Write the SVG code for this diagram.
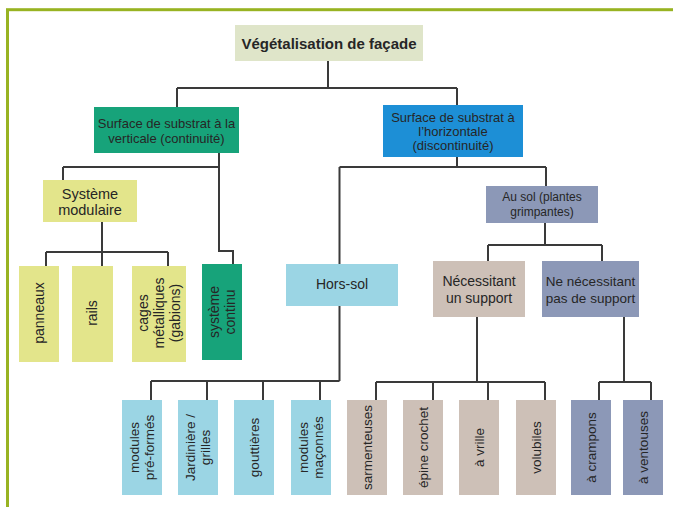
<svg xmlns="http://www.w3.org/2000/svg" width="673" height="507" viewBox="0 0 673 507">
<style>
.t{font-family:"Liberation Sans",Arial,sans-serif;fill:#262626;text-anchor:middle}
.c{fill:none;stroke:#3a3a3a;stroke-width:2}
.sage{fill:#dfe5c9}
.grn{fill:#17a37a}
.blu{fill:#1d8fd6}
.yel{fill:#e3e58b}
.lbl{fill:#9bd5e4}
.sla{fill:#8c98b7}
.pnk{fill:#cdc0b7}
.v{font-size:13.5px}
.v2{font-size:14px}
</style>
<rect width="673" height="507" fill="#ffffff"/>
<rect x="7.5" y="9.7" width="720" height="620" fill="none" stroke="#98b322" stroke-width="3"/>
<g id="connectors" class="c">
<path d="M328,61V88M177,88H457M177,88V107M457,88V105"/>
<path d="M219,153V251H233V264M63,167H219M63,167V180"/>
<path d="M102,222V252M46,252H168M46,252V266M102,252V266M168,252V266"/>
<path d="M457,157V167M339.5,167H546M339.5,167V264M546,167V186"/>
<path d="M339.5,306V381M151,381H339.5M151,381V400M207,381V400M263,381V400M320,381V400"/>
<path d="M545,223V245M488,245H602M488,245V261M602,245V261"/>
<path d="M477,317V382M376,382H545M376,382V400M433,382V400M488,382V400M545,382V400"/>
<path d="M624,317V382M599,382H651M599,382V400M651,382V400"/>
</g>
<g id="n-root"><rect class="sage" x="235" y="25" width="188" height="36"/><text class="t" x="329" y="48.5" font-size="15" font-weight="bold">Végétalisation de façade</text></g>
<g id="n-vert"><rect class="grn" x="94" y="107" width="145" height="46"/><text class="t" font-size="13"><tspan x="166.5" y="127.5">Surface de substrat à la</tspan><tspan x="166.5" y="142.5">verticale (continuité)</tspan></text></g>
<g id="n-horiz"><rect class="blu" x="383" y="105" width="140" height="52"/><text class="t" font-size="13"><tspan x="453" y="121.5">Surface de substrat à</tspan><tspan x="453" y="135.5">l’horizontale</tspan><tspan x="453" y="149.5">(discontinuité)</tspan></text></g>
<g id="n-sysmod"><rect class="yel" x="43" y="180" width="94" height="42"/><text class="t" font-size="14.5"><tspan x="90" y="199">Système</tspan><tspan x="90" y="215">modulaire</tspan></text></g>
<g id="n-panneaux"><rect class="yel" x="19" y="266" width="40" height="96"/><text class="t v2" transform="translate(39,313) rotate(-90)" x="0" y="4.9">panneaux</text></g>
<g id="n-rails"><rect class="yel" x="72" y="266" width="41" height="96"/><text class="t v2" transform="translate(92.5,313) rotate(-90)" x="0" y="4.9">rails</text></g>
<g id="n-cages"><rect class="yel" x="132" y="266" width="54" height="96"/><text class="t v2" transform="translate(159,313) rotate(-90)"><tspan x="0" y="-11.1">cages</tspan><tspan x="0" y="4.9">métalliques</tspan><tspan x="0" y="20.9">(gabions)</tspan></text></g>
<g id="n-continu"><rect class="grn" x="202" y="264" width="40" height="96"/><text class="t v2" transform="translate(222,312) rotate(-90)"><tspan x="0" y="-3.1">système</tspan><tspan x="0" y="12.9">continu</tspan></text></g>
<g id="n-horssol"><rect class="lbl" x="286" y="264" width="112" height="42"/><text class="t" x="342" y="289" font-size="14">Hors-sol</text></g>
<g id="n-ausol"><rect class="sla" x="486" y="186" width="112" height="37"/><text class="t" font-size="12"><tspan x="542" y="201">Au sol (plantes</tspan><tspan x="542" y="216">grimpantes)</tspan></text></g>
<g id="n-nec"><rect class="pnk" x="433" y="261" width="92" height="56"/><text class="t" font-size="14"><tspan x="479" y="286">Nécessitant</tspan><tspan x="479" y="303">un support</tspan></text></g>
<g id="n-nonec"><rect class="sla" x="542" y="261" width="97" height="56"/><text class="t" font-size="13.5"><tspan x="590.5" y="286">Ne nécessitant</tspan><tspan x="590.5" y="303">pas de support</tspan></text></g>
<g id="n-preformes"><rect class="lbl" x="122" y="400" width="40" height="95"/><text class="t v" transform="translate(142,447.5) rotate(-90)"><tspan x="0" y="-2.8">modules</tspan><tspan x="0" y="12.2">pré-formés</tspan></text></g>
<g id="n-jardiniere"><rect class="lbl" x="178" y="400" width="40" height="95"/><text class="t v" transform="translate(198,447.5) rotate(-90)"><tspan x="0" y="-2.8">Jardinière /</tspan><tspan x="0" y="12.2">grilles</tspan></text></g>
<g id="n-gouttieres"><rect class="lbl" x="234" y="400" width="40" height="95"/><text class="t v" transform="translate(254,447.5) rotate(-90)" x="0" y="4.7">gouttières</text></g>
<g id="n-maconnes"><rect class="lbl" x="291" y="400" width="40" height="95"/><text class="t v" transform="translate(311,447.5) rotate(-90)"><tspan x="0" y="-2.8">modules</tspan><tspan x="0" y="12.2">maçonnés</tspan></text></g>
<g id="n-sarmenteuses"><rect class="pnk" x="347" y="400" width="40" height="95"/><text class="t v" transform="translate(367,447.5) rotate(-90)" x="0" y="4.7">sarmenteuses</text></g>
<g id="n-epine"><rect class="pnk" x="403" y="400" width="40" height="95"/><text class="t v" transform="translate(423,447.5) rotate(-90)" x="0" y="4.7">épine crochet</text></g>
<g id="n-vrille"><rect class="pnk" x="459" y="400" width="40" height="95"/><text class="t v" transform="translate(479,447.5) rotate(-90)" x="0" y="4.7">à vrille</text></g>
<g id="n-volubiles"><rect class="pnk" x="516" y="400" width="40" height="95"/><text class="t v" transform="translate(536,447.5) rotate(-90)" x="0" y="4.7">volubiles</text></g>
<g id="n-crampons"><rect class="sla" x="571" y="400" width="40" height="95"/><text class="t v" transform="translate(591,447.5) rotate(-90)" x="0" y="4.7">à crampons</text></g>
<g id="n-ventouses"><rect class="sla" x="623" y="400" width="40" height="95"/><text class="t v" transform="translate(643,447.5) rotate(-90)" x="0" y="4.7">à ventouses</text></g>
</svg>
